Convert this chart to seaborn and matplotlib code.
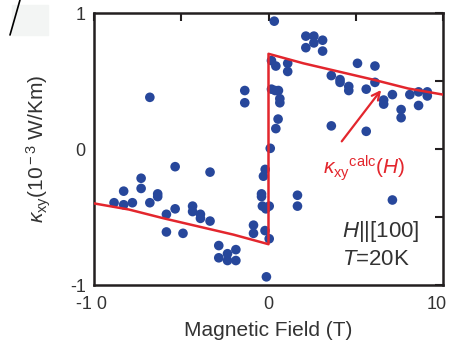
import matplotlib
matplotlib.use("Agg")
import matplotlib.pyplot as plt
import matplotlib.transforms as mtrans
import seaborn as sns
import pandas as pd
from matplotlib.lines import Line2D
from matplotlib.patches import Rectangle

# ---- data ----
field_T = [0.33, 2.14, 2.6, 3.1, 2.14, 2.6, 3.1, 0.17, 0.42, 1.1, 1.1, 5.1, 6.1, 3.6, 4.1, 4.1,
           4.6, 4.6, 5.6, 6.1, 6.6, 6.6, 7.1, 8.1, 8.6, 9.1, 9.1, 7.6, 8.6, 7.6, 3.6, 5.6, 0.17,
           0.38, 0.57, 0.65, 0.65, 0.55, 0.42, 0.1, 1.66, 1.66, 7.1,
           -6.8, -1.36, -1.36, -5.35, -3.35, -7.3, -0.19, -0.29, -7.3, -8.3, -8.85, -8.3, -7.8,
           -6.8, -6.35, -6.35, -5.85, -5.35, -5.85, -4.9, -4.35, -4.35, -3.9, -3.9, -3.35, -2.85,
           -2.85, -2.35, -2.35, -1.87, -1.87, -0.86, -0.86, -0.4, -0.4, -0.35, -0.15, 0.04, -0.2,
           0.04, -0.12]
kappa_xy = [0.94, 0.83, 0.83, 0.80, 0.745, 0.78, 0.72, 0.65, 0.61, 0.63, 0.57, 0.63, 0.61, 0.54,
            0.51, 0.49, 0.46, 0.43, 0.44, 0.49, 0.36, 0.33, 0.40, 0.40, 0.42, 0.42, 0.39, 0.29,
            0.32, 0.23, 0.17, 0.13, 0.44, 0.43, 0.43, 0.37, 0.34, 0.22, 0.15, 0.005, -0.34, -0.42,
            -0.375,
            0.38, 0.43, 0.34, -0.13, -0.17, -0.215, -0.15, -0.20, -0.29, -0.31, -0.395, -0.41,
            -0.395, -0.395, -0.33, -0.35, -0.48, -0.44, -0.61, -0.62, -0.42, -0.46, -0.48, -0.51,
            -0.53, -0.71, -0.80, -0.77, -0.82, -0.74, -0.82, -0.56, -0.62, -0.33, -0.35, -0.42,
            -0.44, -0.42, -0.60, -0.66, -0.94]

calc_H = [-10, -8, -6, -4, -2, 0, 0, 2, 4, 6, 8, 10]
calc_kappa = [-0.40, -0.445, -0.51, -0.57, -0.63, -0.70, 0.70, 0.63, 0.57, 0.51, 0.445, 0.40]

xtick_vals = [-10, 0, 10]
xtick_labels = ["-1 0", "0", "10"]
ytick_vals = [-1, 0, 1]
ytick_labels = ["-1", "0", "1"]

pts = pd.DataFrame({"H": field_T, "k": kappa_xy})
calc = pd.DataFrame({"H": calc_H, "k": calc_kappa})

sns.set_style("white")
plt.rcParams["font.family"] = ["Liberation Sans", "DejaVu Sans"]
plt.rcParams["mathtext.fontset"] = "custom"
plt.rcParams["mathtext.rm"] = "Liberation Sans"
plt.rcParams["mathtext.it"] = "Liberation Sans:italic"
plt.rcParams["mathtext.bf"] = "Liberation Sans:bold"

dot_c = "#27479b"
red = "#e3262d"
txt = "#333333"

fig = plt.figure(figsize=(4.5, 3.43), dpi=100)
ax = fig.add_axes([94 / 450, 1 - 285 / 343, (443 - 94) / 450, (285 - 13) / 343])

sns.lineplot(data=calc, x="H", y="k", sort=False, estimator=None, color=red, lw=1.8, ax=ax, zorder=3)
sns.scatterplot(data=pts, x="H", y="k", color=dot_c, s=48, edgecolor="none", ax=ax, zorder=2)

ax.set_xlim(-10, 10)
ax.set_ylim(-1, 1)
ax.set_xticks(xtick_vals)
ax.set_xticklabels(xtick_labels)
ax.set_xticks([-5, 5], minor=True)
ax.set_yticks(ytick_vals)
ax.set_yticklabels(ytick_labels)
ax.set_yticks([-0.5, 0.5], minor=True)
ax.tick_params(which="both", direction="in", top=True, right=True, length=6, width=1.5,
               color="#231f20", labelsize=13, labelcolor=txt, pad=6)
ax.tick_params(axis="x", which="both", pad=8)
for sp in ax.spines.values():
    sp.set_color("#231f20")
    sp.set_linewidth(1.8)

# shift the outer x tick labels slightly so they match the reference and stay inside
lbls = ax.get_xticklabels()
lbls[-1].set_transform(lbls[-1].get_transform() +
                       mtrans.ScaledTranslation(-6 / 100, 0, fig.dpi_scale_trans))
lbls[0].set_transform(lbls[0].get_transform() +
                      mtrans.ScaledTranslation(-2 / 100, 0, fig.dpi_scale_trans))

ax.set_xlabel("Magnetic Field (T)", fontsize=15, color=txt, labelpad=6)
ax.set_ylabel(r"$\kappa_{\rm xy}$(10$^{\rm -3}$ W/Km)", fontsize=15, color=txt, labelpad=12)

ax.annotate("", xy=(6.55, 0.45), xytext=(4.1, 0.04),
            arrowprops=dict(arrowstyle="->", color=red, lw=1.6, mutation_scale=14))
ax.text(3.1, -0.14, r"$\kappa_{\rm xy}{}^{\rm calc}(\mathit{H})$", color=red, fontsize=15,
        va="center", ha="left")
ax.text(4.2, -0.605, r"$\mathit{H}$||[100]", color=txt, fontsize=16, ha="left", va="center")
ax.text(4.2, -0.815, r"$\mathit{T}$=20K", color=txt, fontsize=16, ha="left", va="center")

# scan artifacts in the reference
fig.patches.append(Rectangle((12 / 450, 1 - 35 / 343), 36 / 450, 30 / 343,
                             transform=fig.transFigure, color="#f3f5f4", zorder=-1))
fig.lines.append(Line2D([10 / 450, 20 / 450], [1 - 35 / 343, 1.0], transform=fig.transFigure,
                        color="black", lw=1.2))

fig.savefig("out.png", dpi=100, facecolor="white")
